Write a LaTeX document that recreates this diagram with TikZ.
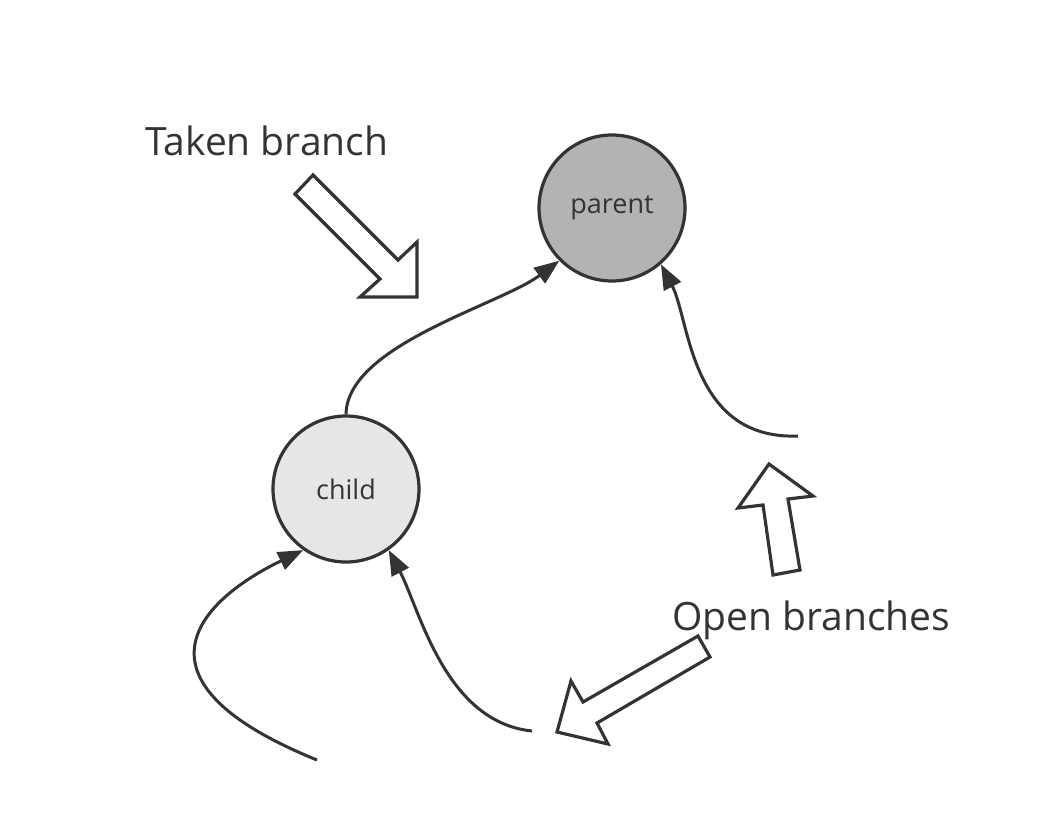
\documentclass[tikz,border=0pt]{standalone}
\usepackage{fontspec}
\setmainfont{Open Sans}
\usetikzlibrary{arrows.meta}
\definecolor{ink}{HTML}{333333}
\definecolor{pfill}{HTML}{B3B3B3}
\definecolor{cfill}{HTML}{E6E6E6}
\tikzset{
  statenode/.style={circle, draw=ink, line width=3.2pt, minimum size=146pt, inner sep=0pt, text=ink, font=\fontsize{27}{32}\selectfont},
  link/.style={draw=ink, line width=3pt, -{Triangle[length=25pt,width=19pt]}},
  blockarrow/.style={draw=ink, line width=3.2pt, fill=white, line join=miter},
  caption/.style={text=ink, font=\fontsize{39}{46}\selectfont, inner sep=0pt, anchor=base west}
}
\begin{document}
\begin{tikzpicture}[x=1pt,y=-1pt]
\useasboundingbox (0,0) rectangle (1046,828);
\node[statenode, fill=pfill] (parent) at (612,208) {parent};
\node[statenode, fill=cfill] (child) at (346,489) {child};
\node[caption] (taken) at (145,155) {Taken branch};
\node[caption] (open) at (672,630) {Open branches};
% block arrows
\draw[blockarrow] (313,175) -- (295,194) -- (380,279) -- (360,297) -- (417,297) -- (417,242) -- (398,260) -- cycle;
\draw[blockarrow] (769,464) -- (813,496) -- (788,499) -- (800,570) -- (773,575) -- (763,505) -- (738,508) -- cycle;
\draw[blockarrow] (698,636) -- (710,657) -- (597,723) -- (608,744) -- (557,732) -- (571,681) -- (583,702) -- cycle;
% connectors
\coordinate (r1) at (798,436);
\coordinate (b1) at (317,760);
\coordinate (b2) at (532,731);
\draw[link] (child.north) .. controls (347,345) and (500,305) .. (parent.225);
\draw[link] (r1) .. controls (690,440) and (690,320) .. (parent.-49);
\draw[link] (b1) .. controls (120,680) and (200,600) .. (child.235);
\draw[link] (b2) .. controls (445,722) and (420,610) .. (child.-55);
\end{tikzpicture}
\end{document}
